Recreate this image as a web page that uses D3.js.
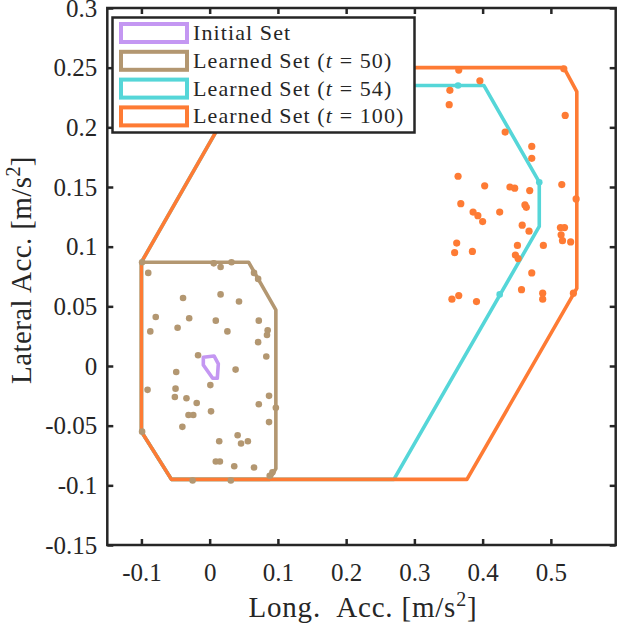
<!DOCTYPE html>
<html>
<script src='https://d3js.org/d3.v7.min.js'></script>
<style>
 body {margin: 0; background: white;}
 text {font-family: 'Liberation Serif', 'Times New Roman', serif; fill: #262626;}
</style>
<body onload='init()'>
<svg width=623 height=623>
</svg>
<script>
// set boundaries (polygons, data units)
var initialSet = [[-0.0093,0.0073],[0.0064,0.0084],[0.0127,0.0017],[0.0112,-0.0103],[0.0044,-0.0103],[-0.0093,0.0008]];
var learnedSet50 = [[-0.1,0.087],[0.057,0.087],[0.097,0.047],[0.097,-0.086],[0.088,-0.095],[-0.056,-0.095],[-0.1,-0.055]];
var learnedSet54 = [[-0.1,0.087],[0.048,0.235],[0.402,0.235],[0.483,0.154],[0.483,0.117],[0.27,-0.095],[-0.056,-0.095],[-0.1,-0.055]];
var learnedSet100 = [[-0.1,0.087],[0.063,0.25],[0.519,0.25],[0.538,0.23],[0.538,0.065],[0.377,-0.095],[-0.056,-0.095],[-0.1,-0.055]];

// sampled points
var points50 = [[-0.099,0.087],[-0.090,0.078],[0.006,0.086],[0.016,0.083],[0.032,0.087],[0.065,0.078],[0.071,0.073],
 [-0.039,0.057],[0.016,0.060],[0.043,0.054],[-0.079,0.041],[-0.030,0.040],[0.009,0.038],[0.072,0.038],
 [-0.087,0.029],[-0.047,0.032],[0.026,0.029],[0.085,0.030],[0.084,0.026],[0.071,0.020],[-0.017,0.009],
 [0.083,0.008],[-0.049,-0.005],[0.038,-0.003],[0.001,-0.016],[-0.091,-0.020],[-0.050,-0.019],[-0.051,-0.026],
 [-0.034,-0.027],[-0.019,-0.031],[0.087,-0.025],[0.097,-0.035],[0.072,-0.032],[0.002,-0.038],[-0.031,-0.041],
 [-0.024,-0.041],[-0.040,-0.051],[0.087,-0.047],[0.041,-0.058],[0.046,-0.065],[0.056,-0.063],[0.014,-0.063],
 [0.009,-0.080],[0.015,-0.080],[0.036,-0.084],[0.065,-0.085],[0.092,-0.089],[0.088,-0.092],[-0.025,-0.096],
 [0.031,-0.096],[-0.099,-0.055]];
var points100 = [[0.365,0.248],[0.519,0.249],[0.396,0.239],[0.352,0.231],[0.351,0.219],[0.521,0.210],[0.433,0.196],
 [0.472,0.184],[0.472,0.174],[0.364,0.159],[0.403,0.151],[0.440,0.150],[0.447,0.149],[0.469,0.147],[0.516,0.152],
 [0.537,0.140],[0.368,0.136],[0.386,0.129],[0.393,0.126],[0.400,0.121],[0.425,0.129],[0.462,0.135],[0.464,0.133],
 [0.458,0.118],[0.468,0.113],[0.514,0.116],[0.520,0.116],[0.515,0.110],[0.517,0.105],[0.529,0.104],[0.362,0.103],
 [0.359,0.095],[0.385,0.096],[0.451,0.101],[0.448,0.093],[0.452,0.090],[0.489,0.101],[0.472,0.078],[0.457,0.064],
 [0.488,0.061],[0.488,0.056],[0.355,0.056],[0.365,0.059],[0.391,0.054],[0.533,0.061]];
var points54 = [[0.364,0.235],[0.483,0.154],[0.425,0.060]];

// axes
var xTicks = [-0.1,0,0.1,0.2,0.3,0.4,0.5];
var xTickLabels = ['-0.1','0','0.1','0.2','0.3','0.4','0.5'];
var yTicks = [-0.15,-0.1,-0.05,0,0.05,0.1,0.15,0.2,0.25,0.3];
var yTickLabels = ['-0.15','-0.1','-0.05','0','0.05','0.1','0.15','0.2','0.25','0.3'];

// legend
var legendNames = ['Initial Set','50','54','100'];
var legendColors = ['#c497f2','#b39771','#55d6d8','#fe7b34'];

function init() {
 var svg = d3.select("svg");
 var x = d3.scaleLinear().domain([-0.15, 0.595]).range([107.3, 615.7]);
 var y = d3.scaleLinear().domain([-0.15, 0.3]).range([545, 8]);
 var line = d3.line().x(d => x(d[0])).y(d => y(d[1])).curve(d3.curveLinearClosed);

 var sets = [initialSet, learnedSet50, learnedSet54, learnedSet100];
 svg.append("g").selectAll("path")
  .data(sets)
  .enter()
  .append("path")
  .attr("d", line)
  .attr("fill", "none")
  .attr("stroke", (d, i) => legendColors[i])
  .attr("stroke-width", 3.6)
  .attr("stroke-linejoin", "round");

 var dots = [[points50, legendColors[1], 3.3], [points54, legendColors[2], 3.3], [points100, legendColors[3], 3.6]];
 dots.forEach(function (p) {
  svg.append("g").selectAll("circle")
   .data(p[0])
   .enter()
   .append("circle")
   .attr("cx", d => x(d[0]))
   .attr("cy", d => y(d[1]))
   .attr("r", p[2])
   .attr("fill", p[1]);
 });

 // axes, ticks pointing in (matlab style, box on)
 var bottom = svg.append("g").attr("transform", "translate(0,545)")
  .call(d3.axisBottom(x).tickValues(xTicks).tickSizeInner(-6).tickSizeOuter(0).tickPadding(18)
   .tickFormat((d, i) => xTickLabels[i]));
 var top = svg.append("g").attr("transform", "translate(0,8)")
  .call(d3.axisTop(x).tickValues(xTicks).tickSizeInner(-6).tickSizeOuter(0).tickFormat(""));
 var left = svg.append("g").attr("transform", "translate(107.3,0)")
  .call(d3.axisLeft(y).tickValues(yTicks).tickSizeInner(-6).tickSizeOuter(0).tickPadding(10)
   .tickFormat((d, i) => yTickLabels[i]));
 var right = svg.append("g").attr("transform", "translate(615.7,0)")
  .call(d3.axisRight(y).tickValues(yTicks).tickSizeInner(-6).tickSizeOuter(0).tickFormat(""));
 [bottom, top, left, right].forEach(function (a) {
  a.select(".domain").remove();
  a.selectAll("line").attr("stroke", "#262626").attr("stroke-width", 2.5);
  a.selectAll("text").attr("font-size", 25).attr("fill", "#262626")
   .attr("font-family", "'Liberation Serif', serif");
 });
 svg.append("rect")
  .attr("x", 107.3).attr("y", 8).attr("width", 615.7 - 107.3).attr("height", 545 - 8)
  .attr("fill", "none").attr("stroke", "#262626").attr("stroke-width", 2.5);

 // axis labels
 var xl = svg.append("text").attr("x", 363).attr("y", 617).attr("text-anchor", "middle")
  .attr("font-size", 29).attr("letter-spacing", 0.8);
 xl.append("tspan").text("Long.\u2002Acc. [m/s");
 xl.append("tspan").attr("dy", -11).attr("font-size", 20).text("2");
 xl.append("tspan").attr("dy", 11).text("]");
 var yl = svg.append("text").attr("transform", "translate(31,270) rotate(-90)").attr("text-anchor", "middle")
  .attr("font-size", 29).attr("letter-spacing", 0.4);
 yl.append("tspan").text("Lateral Acc. [m/s");
 yl.append("tspan").attr("dy", -11).attr("font-size", 20).text("2");
 yl.append("tspan").attr("dy", 11).text("]");

 // legend
 var lg = svg.append("g");
 lg.append("rect").attr("x", 112.5).attr("y", 17.5).attr("width", 302).attr("height", 115)
  .attr("fill", "white").attr("stroke", "#262626").attr("stroke-width", 2.5);
 var rows = lg.selectAll("g.row")
  .data(legendNames)
  .enter()
  .append("g")
  .attr("transform", (d, i) => "translate(0," + (33 + i * 27.8) + ")");
 rows.append("rect")
  .attr("x", 121).attr("y", -9).attr("width", 66).attr("height", 18)
  .attr("fill", "white").attr("stroke", (d, i) => legendColors[i]).attr("stroke-width", 4);
 rows.each(function (d, i) {
  var t = d3.select(this).append("text").attr("x", 193).attr("y", 7)
   .attr("font-size", 22).attr("letter-spacing", 1.1);
  if (i == 0) { t.text(d); return; }
  t.append("tspan").text("Learned Set (");
  t.append("tspan").attr("font-style", "italic").text("t");
  t.append("tspan").text(" = " + d + ")");
 });
}
</script>
</body>
</html>
